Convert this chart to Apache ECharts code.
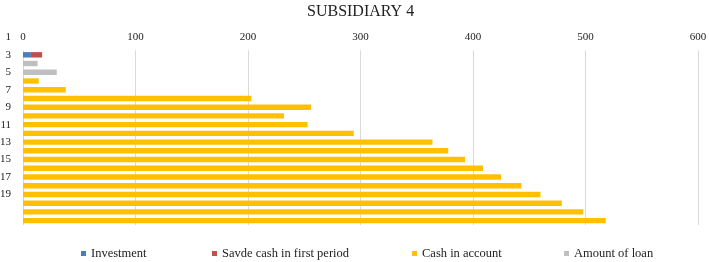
<!DOCTYPE html>
<html>
<head>
	<meta charset="utf-8">
	<title>Subsidiary 4</title>
	<script src="https://cdn.jsdelivr.net/npm/echarts@6/dist/echarts.min.js"></script>
	<style>
		html, body { margin: 0; padding: 0; background: #fff; }
		#main { width: 709px; height: 262px; }
	</style>
</head>
<body>
<div id="main"></div>
<script>
	// categories 1..22, rows 1 and 2 are empty
	var categories = ['1','2','3','4','5','6','7','8','9','10','11','12','13','14','15','16','17','18','19','20','21','22'];
	var seriesNames = ['Investment', 'Savde cash in first period', 'Cash in account', 'Amount of loan'];
	var investment = [null, null, 7, null, null, null, null, null, null, null, null, null, null, null, null, null, null, null, null, null, null, null];
	var savedCash = [null, null, 10, null, null, null, null, null, null, null, null, null, null, null, null, null, null, null, null, null, null, null];
	var cashInAccount = [null, null, null, null, null, 14, 38, 203, 256, 232, 253, 294, 364, 378, 393, 409, 425, 443, 460, 479, 498, 518];
	var amountOfLoan = [null, null, null, 13, 30, null, null, null, null, null, null, null, null, null, null, null, null, null, null, null, null, null];
	var xTicks = [0, 100, 200, 300, 400, 500, 600];

	var colors = ['#4a7ebb', '#c0504d', '#ffc000', '#bfbfbf'];
	var serif = '"Liberation Serif", "Times New Roman", serif';

	var myChart = echarts.init(document.getElementById('main'));

	function makeLegend(name, left) {
		return {
			data: [name],
			left: left,
			top: 247,
			padding: 0,
			itemWidth: 5,
			itemHeight: 5,
			icon: 'rect',
			textStyle: { fontFamily: serif, fontSize: 12.5, color: '#222' }
		};
	}

	var allData = [investment, savedCash, cashInAccount, amountOfLoan];
	var series = [];
	for (var i = 0; i < seriesNames.length; i++) {
		series.push({
			name: seriesNames[i],
			type: 'bar',
			stack: 'total',
			xAxisIndex: 0,
			yAxisIndex: 0,
			barCategoryGap: '38%',
			itemStyle: { color: colors[i] },
			data: allData[i]
		});
	}

	var option = {
		animation: false,
		title: {
			text: 'SUBSIDIARY 4',
			left: 307,
			top: 4,
			padding: 0,
			textStyle: { fontFamily: serif, fontSize: 16, fontWeight: 'normal', color: '#222' }
		},
		legend: [
			makeLegend(seriesNames[0], 81),
			makeLegend(seriesNames[1], 212),
			makeLegend(seriesNames[2], 412),
			makeLegend(seriesNames[3], 564)
		],
		// grid 0 carries the bars and category labels, grid 1 only the value axis + gridlines
		grid: [
			{ left: 23, right: 11, top: 33, bottom: 37, outerBoundsMode: 'none' },
			{ left: 23, right: 11, top: 50.5, bottom: 37, outerBoundsMode: 'none' }
		],
		xAxis: [
			{ gridIndex: 0, type: 'value', min: xTicks[0], max: xTicks[xTicks.length - 1], interval: 100, show: false },
			{
				gridIndex: 1,
				type: 'value',
				position: 'top',
				min: xTicks[0],
				max: xTicks[xTicks.length - 1],
				interval: 100,
				axisLine: { show: false },
				axisTick: { show: false },
				axisLabel: { margin: 8, fontFamily: serif, fontSize: 11, color: '#222' },
				splitLine: { show: true, lineStyle: { color: '#d9d9d9', width: 1 } }
			}
		],
		yAxis: [
			{
				gridIndex: 0,
				type: 'category',
				data: categories,
				inverse: true,
				axisLine: { show: false },
				axisTick: { show: false },
				axisLabel: {
					margin: 12,
					fontFamily: serif,
					fontSize: 11,
					color: '#222',
					interval: function (index) { return index % 2 === 0 && index < 20; }
				}
			},
			{ gridIndex: 1, type: 'value', show: false }
		],
		series: series
	};
	myChart.setOption(option);
</script>
</body>
</html>
